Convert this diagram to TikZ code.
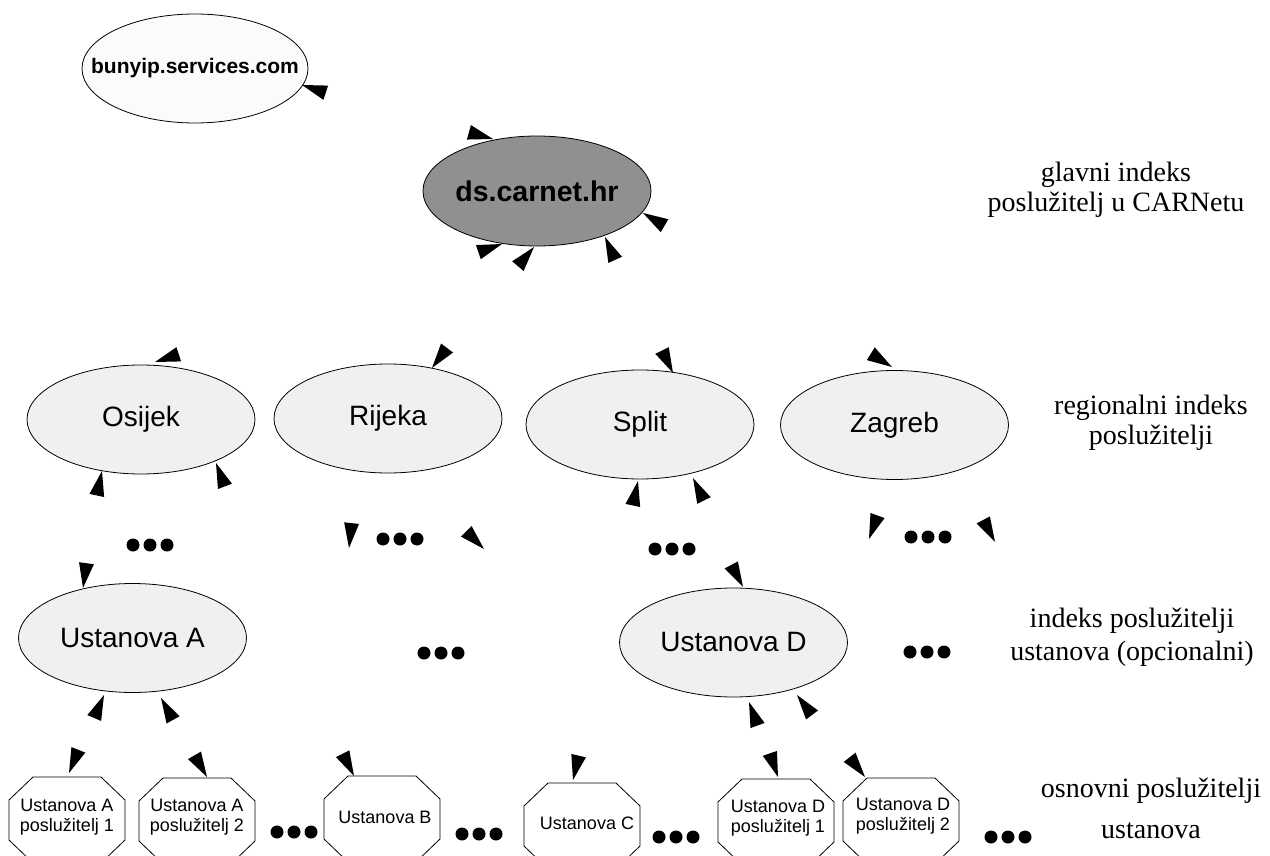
\documentclass[tikz,border=0pt]{standalone}
\usepackage{fontspec}
\setmainfont{Liberation Serif}
\setsansfont{Liberation Sans}
\usetikzlibrary{shapes.geometric}
\definecolor{topgray}{RGB}{144,144,144}
\definecolor{nodegray}{RGB}{240,240,240}

\begin{document}
\begin{tikzpicture}[x=1pt, y=1pt,
            server/.style={ellipse, draw, line width=0.8pt, fill=nodegray, minimum width=228pt, minimum height=109pt, inner sep=0pt, font=\sffamily\fontsize{28}{30}\selectfont},
            host/.style={align=center, inner sep=0pt, font=\sffamily\fontsize{18}{20}\selectfont},
            note/.style={align=center, inner sep=0pt, font=\fontsize{28}{30}\selectfont},
            tip/.pic={\fill (0,0) -- (-25,7.5) -- (-25,-7.5) -- cycle;},
            moredots/.pic={\foreach \dx in {-17,0,17} \fill (\dx,0) circle[radius=6.5];},
            octagon/.pic={\filldraw[fill=white, line width=0.8pt] (-58,-20) -- (-58,20) -- (-34,43) -- (34,43) -- (58,20) -- (58,-20) -- (34,-43) -- (-34,-43) -- cycle;},
            ]
            \useasboundingbox (0,0) rectangle (1270,-856);
            \clip (0,0) rectangle (1270,-856);

            \node[server, fill=gray!3, minimum width=226pt, inner xsep=-26pt, font=\sffamily\bfseries\fontsize{21}{24}\selectfont] (bunyip) at (195,-68.5) {bunyip.services.com};
            \node[server, fill=topgray, minimum height=110pt, inner xsep=-4pt, font=\sffamily\bfseries\fontsize{28.5}{30}\selectfont] (carnet) at (537,-191) {ds.carnet.hr};

            \node[server] (osijek) at (141,-419.5) {Osijek};
            \node[server] (rijeka) at (388,-418.5) {Rijeka};
            \node[server] (split) at (640,-424.5) {Split};
            \node[server] (zagreb) at (894.5,-425) {Zagreb};

            \node[server] (ustA) at (132.5,-638) {Ustanova A};
            \node[server] (ustD) at (733.5,-642.5) {Ustanova D};

            \pic at (67,-820) {octagon};
            \pic at (197,-821) {octagon};
            \pic at (382,-819) {octagon};
            \pic at (582,-826) {octagon};
            \pic at (776,-822) {octagon};
            \pic at (901,-821) {octagon};
            \node[host] (hostA1) at (67,-817) {Ustanova A\\poslužitelj 1};
            \node[host] (hostA2) at (197,-817) {Ustanova A\\poslužitelj 2};
            \node[host] (hostB) at (385,-817) {Ustanova B};
            \node[host] (hostC) at (587,-823) {Ustanova C};
            \node[host] (hostD1) at (778,-818) {Ustanova D\\poslužitelj 1};
            \node[host] (hostD2) at (903,-816) {Ustanova D\\poslužitelj 2};

            \foreach \x/\y in {150/-545, 400/-539, 672/-549, 928/-537, 441/-653, 927/-652, 294/-832, 479/-834, 676/-837, 1008/-837}
                \pic at (\x,\y) {moredots};

            \foreach \x/\y/\a in {302/-85/162, 493/-139/-15.5, 643/-213/149.5, 502/-244/19, 534/-247/50, 605/-237/114,
                                  155/-362/198, 102/-471/78, 216/-463/111, 432/-368/233, 349/-548/264, 484/-549/315,
                                  673/-373/296, 638/-481/78, 693/-478/116, 892/-367/-32, 869/-539/250, 995/-542/298,
                                  743/-587/298, 83/-588/262, 104/-695/67, 161/-698/119, 749/-702/110, 797/-695/127,
                                  69/-773/248, 207/-777/300, 354/-776/297, 573/-780/257, 778/-777/289, 865/-777/308}
                \pic[rotate=\a] at (\x,\y) {tip};

            \node[note] (lvlmain) at (1116,-190) {glavni indeks\\poslužitelj u CARNetu};
            \node[note] (lvlregion) at (1151,-423) {regionalni indeks\\poslužitelji};
            \node[note, font=\fontsize{28}{33}\selectfont] (lvlinst) at (1132,-637) {indeks poslužitelji\\ustanova (opcionalni)};
            \node[note, font=\fontsize{28}{41}\selectfont] (lvlhost) at (1151,-808) {osnovni poslužitelji\\ustanova};
        \end{tikzpicture}
\end{document}
